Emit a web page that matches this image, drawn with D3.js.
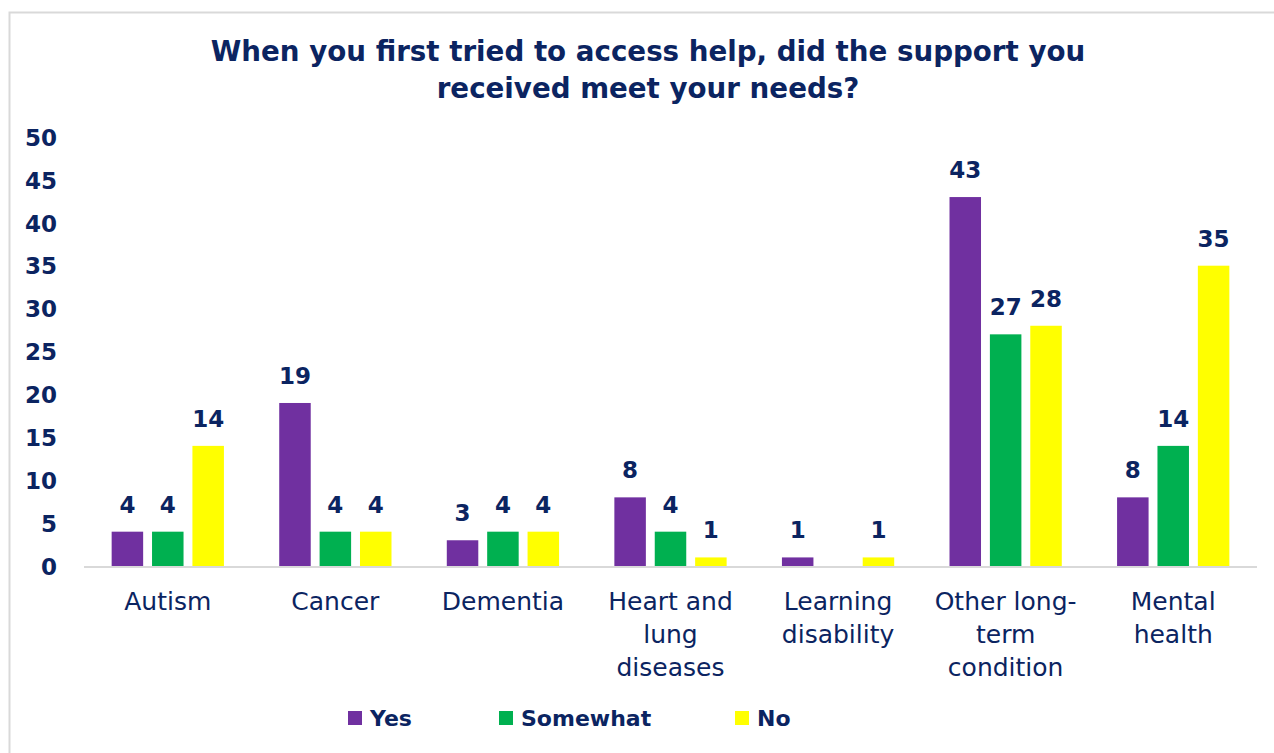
<!DOCTYPE html>
<html>
<head>
<meta charset="utf-8">
<script src="https://cdn.jsdelivr.net/npm/d3@7"></script>
<style>
  body { margin: 0; background: #fff; }
  text { font-family: 'DejaVu Sans', Verdana, sans-serif; fill: #0b2461; }
  .bold { font-weight: bold; }
</style>
</head>
<body>
<div id="viz"></div>
<script>
// chart data
var categories = ["Autism", "Cancer", "Dementia", "Heart and lung diseases", "Learning disability", "Other long-term condition", "Mental health"];
var categoryLines = [["Autism"], ["Cancer"], ["Dementia"], ["Heart and", "lung", "diseases"], ["Learning", "disability"], ["Other long-", "term", "condition"], ["Mental", "health"]];
var seriesNames = ["Yes", "Somewhat", "No"];
var yesValues = [4, 19, 3, 8, 1, 43, 8];
var somewhatValues = [4, 4, 4, 4, null, 27, 14];
var noValues = [14, 4, 4, 1, 1, 28, 35];
var yTicks = [0, 5, 10, 15, 20, 25, 30, 35, 40, 45, 50];
var colors = ["#7030a0", "#00b050", "#ffff00"];
var titleLines = ["When you first tried to access help, did the support you", "received meet your needs?"];

var series = [yesValues, somewhatValues, noValues];

var width = 1274, height = 753;
var plotLeft = 84, plotRight = 1257, plotTop = 137, plotBottom = 566;

var svg = d3.select("#viz").append("svg")
  .attr("width", width)
  .attr("height", height);

// chart border
svg.append("rect")
  .attr("x", 9.5).attr("y", 12.5)
  .attr("width", 1290).attr("height", 760)
  .attr("fill", "none")
  .attr("stroke", "#d9d9d9")
  .attr("stroke-width", 2);

var x0 = d3.scaleBand()
  .domain(categories)
  .range([plotLeft, plotRight])
  .paddingInner(0.33)
  .paddingOuter(0.165);

var x1 = d3.scaleBand()
  .domain(seriesNames)
  .range([0, x0.bandwidth()])
  .paddingInner(0.22);

var y = d3.scaleLinear()
  .domain([0, 50])
  .range([plotBottom, plotTop]);

// title
var title = svg.append("text")
  .attr("class", "bold")
  .attr("text-anchor", "middle")
  .style("font-size", "30px");
title.selectAll("tspan")
  .data(titleLines)
  .enter().append("tspan")
  .attr("x", 648)
  .attr("y", function(d, i) { return 61 + i * 37; })
  .text(function(d) { return d; });
// fit first title line to reference width
var w0 = title.select("tspan").node().getComputedTextLength();
title.style("font-size", (30 * 875 / w0) + "px");

// y axis (labels only)
var yAxis = svg.append("g")
  .attr("transform", "translate(" + 57 + ",0)")
  .call(d3.axisLeft(y).tickValues(yTicks).tickSize(0).tickPadding(0));
yAxis.select(".domain").remove();
yAxis.selectAll("text")
  .attr("class", "bold")
  .attr("fill", null)
  .style("font-size", "23px")
  .attr("dy", "0.36em");

// bars
var groups = svg.selectAll(".group")
  .data(categories)
  .enter().append("g")
  .attr("class", "group")
  .attr("transform", function(d) { return "translate(" + x0(d) + ",0)"; });

groups.selectAll("rect")
  .data(function(d, i) {
    return seriesNames.map(function(s, j) { return { key: s, value: series[j][i], color: colors[j] }; });
  })
  .enter().append("rect")
  .filter(function(d) { return d.value != null; })
  .attr("x", function(d) { return x1(d.key); })
  .attr("width", x1.bandwidth())
  .attr("y", function(d) { return y(d.value); })
  .attr("height", function(d) { return y(0) - y(d.value); })
  .attr("fill", function(d) { return d.color; });

groups.selectAll(".label")
  .data(function(d, i) {
    return seriesNames.map(function(s, j) { return { key: s, value: series[j][i] }; })
      .filter(function(d) { return d.value != null; });
  })
  .enter().append("text")
  .attr("class", "label bold")
  .attr("text-anchor", "middle")
  .style("font-size", "23px")
  .attr("x", function(d) { return x1(d.key) + x1.bandwidth() / 2; })
  .attr("y", function(d) { return y(d.value) - 19; })
  .text(function(d) { return d.value; });

// x axis line
svg.append("line")
  .attr("x1", plotLeft).attr("x2", plotRight)
  .attr("y1", plotBottom + 1).attr("y2", plotBottom + 1)
  .attr("stroke", "#d9d9d9")
  .attr("stroke-width", 2);

// category labels
categories.forEach(function(c, i) {
  var t = svg.append("text")
    .attr("text-anchor", "middle")
    .style("font-size", "25px");
  t.selectAll("tspan")
    .data(categoryLines[i])
    .enter().append("tspan")
    .attr("x", x0(c) + x0.bandwidth() / 2)
    .attr("y", function(d, k) { return 610 + k * 33; })
    .text(function(d) { return d; });
});

// legend
var legendX = [348, 499, 735];
var legend = svg.selectAll(".legend")
  .data(seriesNames)
  .enter().append("g")
  .attr("class", "legend")
  .attr("transform", function(d, i) { return "translate(" + legendX[i] + ",711)"; });
legend.append("rect")
  .attr("width", 14).attr("height", 14)
  .attr("fill", function(d, i) { return colors[i]; });
legend.append("text")
  .attr("class", "bold")
  .attr("x", 22)
  .attr("y", 15)
  .style("font-size", "22px")
  .text(function(d) { return d; });
</script>
</body>
</html>
